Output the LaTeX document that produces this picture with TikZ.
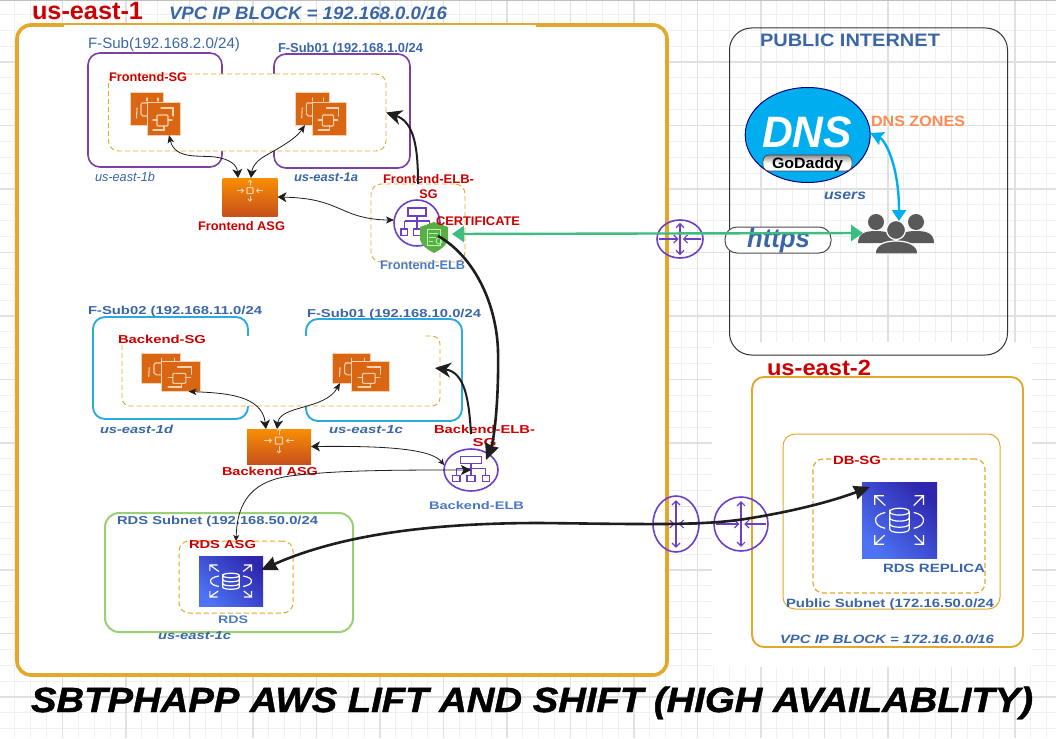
\documentclass[tikz,border=0pt]{standalone}
\usepackage{fontspec}
\usepackage{graphicx}
\setmainfont{Liberation Sans}
\newfontfamily\ttlfont[BoldItalicFeatures={FakeBold=1.2}]{Liberation Sans}
\usetikzlibrary{arrows.meta,shapes.geometric,calc}
\definecolor{cRed}{HTML}{CC0000}
\definecolor{cBlue}{HTML}{3A66A8}
\definecolor{cBlueB}{HTML}{4A7AC4}
\definecolor{cOrange}{HTML}{E3A82B}
\definecolor{cPurple}{HTML}{7B3FA6}
\definecolor{cViolet}{HTML}{6B3FC8}
\definecolor{cCyan}{HTML}{29ABE2}
\definecolor{cGreenBox}{HTML}{97D077}
\definecolor{cEC}{HTML}{D86613}
\definecolor{cGlyph}{HTML}{F8D2B0}
\definecolor{cSky}{HTML}{00AEEF}
\definecolor{cGo}{HTML}{3DBE80}
\definecolor{cUser}{HTML}{595959}
\definecolor{cLine}{HTML}{1E1E1E}
\definecolor{cAsgT}{HTML}{F78E04}
\definecolor{cAsgB}{HTML}{C8511B}
\definecolor{cDbL}{HTML}{4D72F3}
\definecolor{cDbM}{HTML}{3D4CD0}
\definecolor{cDbD}{HTML}{2E27AD}
\definecolor{cShield}{HTML}{5BAE46}
\definecolor{cZone}{HTML}{FF8A50}
\newcommand\fnt[1]{\fontsize{#1}{#1}\selectfont}
\tikzset{
  lab/.style={inner sep=0,outer sep=0,text=cBlue},
  redb/.style={text=cRed,font=\fontsize{12.5}{15}\selectfont\bfseries},
  blb/.style={text=cBlue,font=\fontsize{12.5}{15}\selectfont\bfseries},
  blbb/.style={text=cBlueB,font=\fontsize{12.5}{15}\selectfont\bfseries},
  bli/.style={text=cBlue,font=\fontsize{12.5}{15}\selectfont\bfseries\itshape},
  frame/.style={rectangle,rounded corners=12pt,inner sep=0,outer sep=0,anchor=north west},
  sgbox/.style={frame,rounded corners=10pt,draw=cOrange,dashed,dash pattern=on 5pt off 3pt,line width=.9pt,fill=white},
  ecsq/.style={rectangle,fill=cEC,draw=cGlyph,line width=.5pt,inner sep=0,outer sep=0,anchor=north west},
  glyph/.style={draw=cGlyph,line width=1.1pt,line cap=round},
  thinar/.style={draw=cLine,line width=.8pt,{Stealth[length=8pt,width=6.5pt,inset=2pt]}-{Stealth[length=9pt,width=10pt,inset=2.5pt]}},
  thickar/.style={draw=cLine,line width=2pt,-{Stealth[length=16pt,width=15pt,inset=5pt]}},
  viol/.style={draw=cViolet,line width=1pt},
  routerbarb/.style={viol,line width=1.2pt,-{Straight Barb[length=4pt,width=8pt]}},
  routerbarbb/.style={viol,line width=1.2pt,{Straight Barb[length=4pt,width=8pt]}-{Straight Barb[length=4pt,width=8pt]}},
}
% label: style, name, x, baseline y, width, text
\newcommand\lbl[6]{\node[lab,#1,anchor=base west] (#2) at (#3,#4) {\resizebox{#5pt}{\height}{#6}};}
% box: style, name, x1,y1,x2,y2
\newcommand\bx[6]{\node[#1,minimum width={(#5-#3)*1pt},minimum height={(#6-#4)*1pt}] (#2) at (#3,#4) {};}
% two-square compute icon: name,x,y,w,h,dx,dy ; second square is #1, first is #1a
\newcommand\ecicon[7]{%
  \node[ecsq,minimum width=#4pt,minimum height=#5pt] (#1a) at (#2,#3) {};
  \node[ecsq,minimum width=#4pt,minimum height=#5pt] (#1) at (#2+#6,#3+#7) {};
  \begin{scope}[shift={(#2,#3)},xscale=#4/33,yscale=#5/33]
    \draw[glyph] (17,11) -- (12,11) -- (11,13) -- (11,22) -- (13,24) -- (17,24);
    \draw[glyph] (7,16) -- (6.5,26);
    \draw[glyph] (17,6) -- (17,9);
    \draw[glyph] (28,6) -- (28,9);
  \end{scope}
  \begin{scope}[shift={(#2+#6,#3+#7)},xscale=#4/33,yscale=#5/33]
    \draw[glyph,rounded corners=1pt] (10,13) rectangle (21,24);
    \draw[glyph] (14,6) -- (26,6) -- (26,14);
    \draw[glyph] (6,28) -- (17,28) -- (17,24);
    \draw[glyph] (6,18) -- (10,18);
    \draw[glyph] (21,18) -- (25,18);
  \end{scope}}
% scaling-group icon: name,x,y,w,h
\newcommand\asgicon[5]{%
  \node[rectangle,inner sep=0,outer sep=0,anchor=north west,top color=cAsgT,bottom color=cAsgB,minimum width=#4pt,minimum height=#5pt] (#1) at (#2,#3) {};
  \begin{scope}[shift={(#2+#4/2,#3+#5/3)},scale=#4/55]
    \draw[cGlyph,line width=1.1pt,rounded corners=.5pt] (-3,-3) rectangle (3,3);
    \draw[cGlyph,line width=.9pt,-{Straight Barb[length=2pt,width=4pt]}] (-13,0) -- (-6,0);
    \draw[cGlyph,line width=.9pt,-{Straight Barb[length=2pt,width=4pt]}] (13,0) -- (6,0);
    \draw[cGlyph,line width=.9pt,-{Straight Barb[length=2pt,width=4pt]}] (0,-5) -- (0,-11);
    \draw[cGlyph,line width=.9pt,-{Straight Barb[length=2pt,width=4pt]}] (0,5) -- (0,11);
  \end{scope}}
% database icon: name,x,y,w,h
\newcommand\rdsicon[5]{%
  \node[rectangle,inner sep=0,outer sep=0,anchor=north west,bottom color=cDbL,top color=cDbD,middle color=cDbM,shading angle=-45,minimum width=#4pt,minimum height=#5pt] (#1) at (#2,#3) {};
  \begin{scope}[shift={(#2,#3)},xscale=#4/100,yscale=#5/100,white,line width=1.2pt]
    \draw (31,31) -- (17,18) (17,30) -- (17,18) -- (29,18);
    \draw (69,31) -- (82,18) (82,30) -- (82,18) -- (70,18);
    \draw (30,70) -- (17,82) (17,70) -- (17,82) -- (29,82);
    \draw (70,70) -- (82,82) (82,70) -- (82,82) -- (70,82);
    \draw (31,40) .. controls (22,42) and (18,46) .. (18,50) .. controls (18,55) and (22,59) .. (31,61);
    \draw (69,40) .. controls (78,42) and (82,46) .. (82,50) .. controls (82,55) and (78,59) .. (69,61);
    \draw[line width=1.2pt] (37,39) .. controls (37,33) and (63,33) .. (63,39) .. controls (63,45) and (37,45) .. (37,39) -- (37,62) .. controls (37,68) and (63,68) .. (63,62) -- (63,39);
    \draw (37,47) .. controls (37,53) and (63,53) .. (63,47);
    \draw (37,55) .. controls (37,61) and (63,61) .. (63,55);
  \end{scope}}
% load balancer: name,cx,cy,rx,ry
\newcommand\elbicon[5]{%
  \node[ellipse,viol,line width=1.6pt,inner sep=0,outer sep=0,minimum width={2*#4 pt},minimum height={2*#5 pt}] (#1) at (#2,#3) {};
  \begin{scope}[shift={(#2,#3)},xscale=#4/23,yscale=#5/23,viol,line width=1.3pt]
    \draw (-9,-15) rectangle (9,-7);
    \draw (0,-7) -- (0,-2) (-12.5,-2) -- (12.5,-2);
    \draw (-12.5,-2) -- (-12.5,6) (0,-2) -- (0,6) (12.5,-2) -- (12.5,6);
    \draw (-16,6) rectangle (-9.5,12.5) (-3.3,6) rectangle (3.3,12.5) (9.5,6) rectangle (16,12.5);
  \end{scope}}
% router: name,cx,cy,rx,ry
\newcommand\routericon[5]{%
  \node[ellipse,viol,line width=1.6pt,inner sep=0,outer sep=0,minimum width={2*#4 pt},minimum height={2*#5 pt}] (#1) at (#2,#3) {};
  \draw[routerbarbb] (#2,#3-0.85*#5) -- (#2,#3+0.85*#5);
  \draw[routerbarb] (#2-0.92*#4,#3) -- (#2-0.06*#4,#3);
  \draw[routerbarb] (#2+0.92*#4,#3) -- (#2+0.12*#4,#3);}
\begin{document}
\begin{tikzpicture}[x=1pt,y=-1pt]
\useasboundingbox (0,0) rectangle (1056,738);
\fill[white] (0,0) rectangle (1056,738);
% background grid
\foreach \i in {0,...,67}{
  \pgfmathsetmacro\gx{-1+15.875*\i}
  \draw[draw=black!6,line width=.9pt] (\gx,0) -- (\gx,738);
}
\foreach \i in {0,...,47}{
  \pgfmathsetmacro\gy{-1.5+15.875*\i}
  \draw[draw=black!6,line width=.9pt] (0,\gy) -- (1056,\gy);
}
\foreach \i in {0,...,17}{
  \pgfmathsetmacro\gx{-1+63.5*\i}
  \draw[draw=black!12,line width=1.2pt] (\gx,0) -- (\gx,738);
}
\foreach \i in {0,...,12}{
  \pgfmathsetmacro\gy{-1.5+63.5*\i}
  \draw[draw=black!12,line width=1.2pt] (0,\gy) -- (1056,\gy);
}
\draw[draw=black!25,line width=1pt] (0,.5) -- (1056,.5);
\fill[white] (712,342) rectangle (1032,667);
% us-east-1 region
\bx{frame,draw=cOrange,line width=3.6pt,fill=white,rounded corners=14pt}{vpcA}{17}{25}{667}{675}
\fill[white] (64,25.3) rectangle (536,28);
\lbl{text=cRed,font=\fnt{25}\bfseries}{tRegA}{32}{20}{111}{us-east-1}
\lbl{text=cBlue,font=\fnt{18}\bfseries\itshape}{tVpcA}{169}{20}{278}{VPC IP BLOCK = 192.168.0.0/16}
% frontend subnets
\bx{frame,draw=cPurple,line width=1.6pt}{subA}{88}{53}{222}{167}
\bx{frame,draw=cPurple,line width=1.6pt}{subB}{274}{54}{410}{168}
\lbl{font=\fnt{15}}{tSubA}{88}{49}{152}{F-Sub(192.168.2.0/24)}
\lbl{blb,font=\fnt{13}\bfseries}{tSubB}{278}{53}{145}{F-Sub01 (192.168.1.0/24}
\bx{sgbox}{sgF}{108.5}{74}{386}{151}
\lbl{redb}{tSgF}{109}{81.5}{78}{Frontend-SG}
\ecicon{ecA}{130}{92}{33}{33}{17}{10}
\ecicon{ecB}{295}{92}{34}{33}{17}{10}
\lbl{text=cBlue,font=\fnt{13}\itshape}{tAzA}{95}{182}{60}{us-east-1b}
\lbl{bli}{tAzB}{294}{182}{64}{us-east-1a}
\asgicon{asgF}{222.5}{178}{55}{38}
\lbl{redb}{tAsgF}{198}{230}{87}{Frontend ASG}
% frontend balancer
\bx{sgbox}{sgLbF}{371}{184}{465}{262}
\elbicon{lbF}{417}{223}{23}{23}
\node[lab,blbb,anchor=base west] (tLbF) at (380,269) {\resizebox{85pt}{\height}{Frontend-ELB}};
\node[lab,redb,align=center] (tSgLbF) at (428.5,187) {\resizebox{91pt}{\height}{Frontend-ELB-}\\SG};
\path[fill=cShield] (434,222) -- (448,227) -- (448,240) .. controls (446,246) and (440,250) .. (434,253) .. controls (428,250) and (422,246) .. (420,240) -- (420,227) -- cycle;
\node[inner sep=0,outer sep=0,minimum width=28pt,minimum height=31pt] (cert) at (434,237.5) {};
\draw[draw=white!70!green,line width=.8pt] (427,229) rectangle (440,245) (429,233) -- (438,233) (429,237) -- (436,237) (429,241) -- (433,241);
\draw[draw=white!70!green,line width=.8pt] (439,241) circle (3);
\lbl{redb}{tCert}{436}{225}{84}{CERTIFICATE}
% backend subnets
\bx{frame,draw=cCyan,line width=1.9pt}{subC}{93}{317}{248}{419}
\bx{frame,draw=cCyan,line width=1.9pt}{subD}{306}{319}{462}{421}
\lbl{blb,font=\fnt{11.5}\bfseries}{tSubC}{88}{314}{174}{F-Sub02 (192.168.11.0/24}
\lbl{blb,font=\fnt{11.5}\bfseries}{tSubD}{307}{317}{174}{F-Sub01 (192.168.10.0/24}
\node[frame,rounded corners=8pt,fill=white,minimum width=318pt,minimum height=70pt] (sgB) at (122,336) {};
\draw[draw=cOrange,dashed,dash pattern=on 5pt off 3pt,line width=.9pt,rounded corners=8pt] (122,345) -- (122,406) -- (440,406) -- (440,336) -- (424,336);
\lbl{redb,font=\fnt{11.5}\bfseries}{tSgB}{118}{343}{88}{Backend-SG}
\ecicon{ecC}{141}{353}{39}{30}{20}{8.5}
\ecicon{ecD}{332}{353}{38}{30}{19}{8.5}
\lbl{bli,font=\fnt{11.5}\bfseries\itshape}{tAzC}{100}{433}{73}{us-east-1d}
\lbl{bli,font=\fnt{11.5}\bfseries\itshape}{tAzD}{329}{433}{74}{us-east-1c}
\asgicon{asgB}{247}{429}{64}{35}
\lbl{redb,font=\fnt{11.5}\bfseries}{tAsgB}{222}{475}{96}{Backend ASG}
\elbicon{lbB}{471}{470}{27}{21}
\node[lab,redb,font=\fontsize{11.5}{13}\selectfont\bfseries,align=center] (tSgLbB) at (484.5,435.5) {\resizebox{101pt}{\height}{Backend-ELB-}\\\resizebox{24pt}{\height}{SG}};
\lbl{blbb,font=\fnt{11}\bfseries}{tLbB}{429}{509}{95}{Backend-ELB}
% RDS
\bx{frame,draw=cGreenBox,line width=2pt,rounded corners=14pt}{subE}{105}{513}{353}{632}
\lbl{blb,font=\fnt{11.5}\bfseries}{tSubE}{117}{524}{201}{RDS Subnet (192.168.50.0/24}
\bx{sgbox,line width=1pt}{sgR}{179}{541}{293}{613}
\lbl{redb,font=\fnt{11.5}\bfseries}{tSgR}{189}{548}{67}{RDS ASG}
\rdsicon{rds}{199}{556}{64}{50}
\lbl{blbb,font=\fnt{11}\bfseries}{tRds}{218}{623}{30}{RDS}
\lbl{bli,font=\fnt{11.5}\bfseries\itshape}{tAzE}{158}{639}{73}{us-east-1c}
% public internet
\bx{frame,draw=black!80,line width=1pt,rounded corners=22pt}{pub}{729.5}{28}{1007.5}{355}
\lbl{font=\fnt{18}\bfseries}{tPub}{760}{47}{180}{PUBLIC INTERNET}
\node[ellipse,fill=cSky,draw=blue!50!black,line width=1pt,inner sep=0,outer sep=0,minimum width=125pt,minimum height=95pt] (dns) at (807.7,135) {};
\lbl{text=white,font=\fnt{44}\bfseries\itshape}{tDns}{762}{148}{90}{DNS}
\node[rectangle,rounded corners=6pt,draw=black!70,line width=.8pt,top color=black!45,bottom color=white,middle color=white,inner sep=0,outer sep=0,minimum width=89pt,minimum height=16pt] (goD) at (807.5,163) {};
\lbl{text=black,font=\fnt{15}\bfseries}{tGo}{772}{168}{71}{GoDaddy}
\lbl{text=cZone,font=\fnt{15}\bfseries}{tZones}{871}{127}{94}{DNS ZONES}
\lbl{bli,font=\fnt{14}\bfseries\itshape}{tUsers}{824}{199}{42}{users}
% users
\node[inner sep=0,outer sep=0,minimum width=76pt,minimum height=39pt] (users) at (896,233.5) {};
\fill[cUser] (876,222) circle (8);
\fill[cUser] (916,222) circle (8);
\fill[cUser] (858,243) .. controls (858,233) and (866,231) .. (876,231) .. controls (886,231) and (894,233) .. (894,243) -- cycle;
\fill[cUser] (898,243) .. controls (898,233) and (906,231) .. (916,231) .. controls (926,231) and (934,233) .. (934,243) -- cycle;
\fill[cUser,draw=white,line width=1.2pt] (896,230) circle (9.5);
\fill[cUser,draw=white,line width=1.2pt] (875,254) .. controls (875,245) and (884,241) .. (896,241) .. controls (908,241) and (918,245) .. (918,254) -- cycle;
% https pill
\node[rectangle,rounded corners=12pt,draw=black!70,line width=1pt,fill=white,inner sep=0,outer sep=0,minimum width=106pt,minimum height=26pt] (pill) at (778,240) {};
\lbl{font=\fnt{27}\bfseries\itshape}{tHttps}{747}{247}{63}{https}
% us-east-2
\bx{frame,draw=cOrange,line width=1.9pt}{vpcB}{752}{377}{1023}{647}
\lbl{text=cRed,font=\fnt{22}\bfseries}{tRegB}{767}{375}{104}{us-east-2}
\bx{frame,draw=cOrange,line width=1pt}{subF}{783}{434}{1000}{609}
\bx{sgbox,fill=none,line width=1.2pt}{sgD}{813}{459}{985}{593}
\node[fill=white,inner sep=0,outer sep=0,minimum width=50pt,minimum height=6pt] (maskD) at (857,459) {};
\lbl{redb,font=\fnt{12}\bfseries}{tSgD}{833}{464}{48}{DB-SG}
\rdsicon{rep}{862}{482}{75}{76}
\lbl{blb,font=\fnt{12}\bfseries}{tRep}{883}{572}{102}{RDS REPLICA}
\lbl{blb,font=\fnt{12}\bfseries}{tSubF}{786}{607}{208}{Public Subnet (172.16.50.0/24}
\lbl{bli,font=\fnt{12}\bfseries\itshape}{tVpcB}{780}{643}{214}{VPC IP BLOCK = 172.16.0.0/16}
% routers
\routericon{igwA}{680}{239}{23}{19}
\routericon{igwB}{676}{524}{23}{28}
\routericon{igwC}{741}{524}{27}{27}
% connectors
\draw[thinar] ([xshift=5.5pt]ecA.south) .. controls (175,160) and (200,155) .. (215,157) .. controls (230,159) and (237,165) .. ([xshift=-12pt]asgF.north);
\draw[thinar] ([xshift=-7pt]ecBa.south) .. controls (295,140) and (275,150) .. (265,156) .. controls (256,161) and (252,168) .. ([xshift=1pt]asgF.north);
\draw[thinar,{Stealth[length=9pt,width=10pt,inset=2.5pt]}-{Stealth[length=8pt,width=7pt,inset=2pt]}] (asgF.east) .. controls (320,198) and (330,205) .. (350,213) .. controls (365,219) and (380,220) .. ([yshift=3pt]lbF.west);
\draw[thinar] ([xshift=8pt]ecC.south) .. controls (225,393) and (262,395) .. ([xshift=-13pt]asgB.north);
\draw[thinar] ([xshift=-11pt]ecDa.south) .. controls (325,410) and (280,405) .. ([xshift=-2pt]asgB.north);
\draw[thinar,{Stealth[length=9pt,width=10pt,inset=2.5pt]}-{Stealth[length=6pt,width=6pt,inset=1.5pt]}] (asgB.east) .. controls (370,446) and (430,447) .. ([yshift=5pt]lbB.west);
\draw[thinar,{Stealth[length=10pt,width=10pt,inset=2.5pt]}-{Stealth[length=6pt,width=6pt,inset=1.5pt]}] (lbB.center) .. controls (400,470) and (337,470) .. (290,476) .. controls (245,482) and (237,510) .. (sgR.north);
\draw[thickar] (sgLbF.north) .. controls (418,150) and (415,122) .. (sgF.east);
\draw[thickar] ([yshift=15pt]lbB.north) .. controls (469,400) and (465,372) .. ([xshift=-5pt,yshift=3pt]sgB.east);
\draw[thickar,line width=2.6pt,-{Stealth[length=16pt,width=14pt,inset=1pt]}] ([xshift=4pt,yshift=1.5pt]cert.center) .. controls (472,255) and (496,300) .. (498,350) .. controls (499,400) and (494,440) .. ([xshift=15pt,yshift=10pt]lbB.center);
\draw[thickar,line width=2.6pt,{Stealth[length=16pt,width=14pt,inset=1pt]}-{Stealth[length=16pt,width=14pt,inset=1pt]}] ([xshift=-2pt,yshift=11pt]rds.east) .. controls (340,535) and (430,523) .. (540,523) .. controls (640,524) and (700,526) .. (745,519) .. controls (790,512) and (830,502) .. ([xshift=8pt,yshift=-5pt]rep.north west);
\draw[draw=cGo,line width=2.4pt,{Triangle[length=12pt,width=16pt]}-{Triangle[length=12pt,width=16pt]}] ([xshift=4pt,yshift=3.5pt]cert.east) -- ([xshift=5pt,yshift=.5pt]users.west);
\draw[draw=cSky,line width=2.4pt,{Stealth[length=13pt,width=14pt,inset=2pt]}-{Triangle[length=11pt,width=14pt]}] ([yshift=2pt]dns.east) .. controls (885,140) and (899,165) .. ([xshift=3pt,yshift=-7pt]users.north);
% title
\node[lab,text=black,font=\fnt{35}\ttlfont\bfseries\itshape,anchor=base west] (title) at (31,712) {\resizebox{1002pt}{\height}{SBTPHAPP AWS LIFT AND SHIFT (HIGH AVAILABLITY)}};
\end{tikzpicture}
\end{document}
